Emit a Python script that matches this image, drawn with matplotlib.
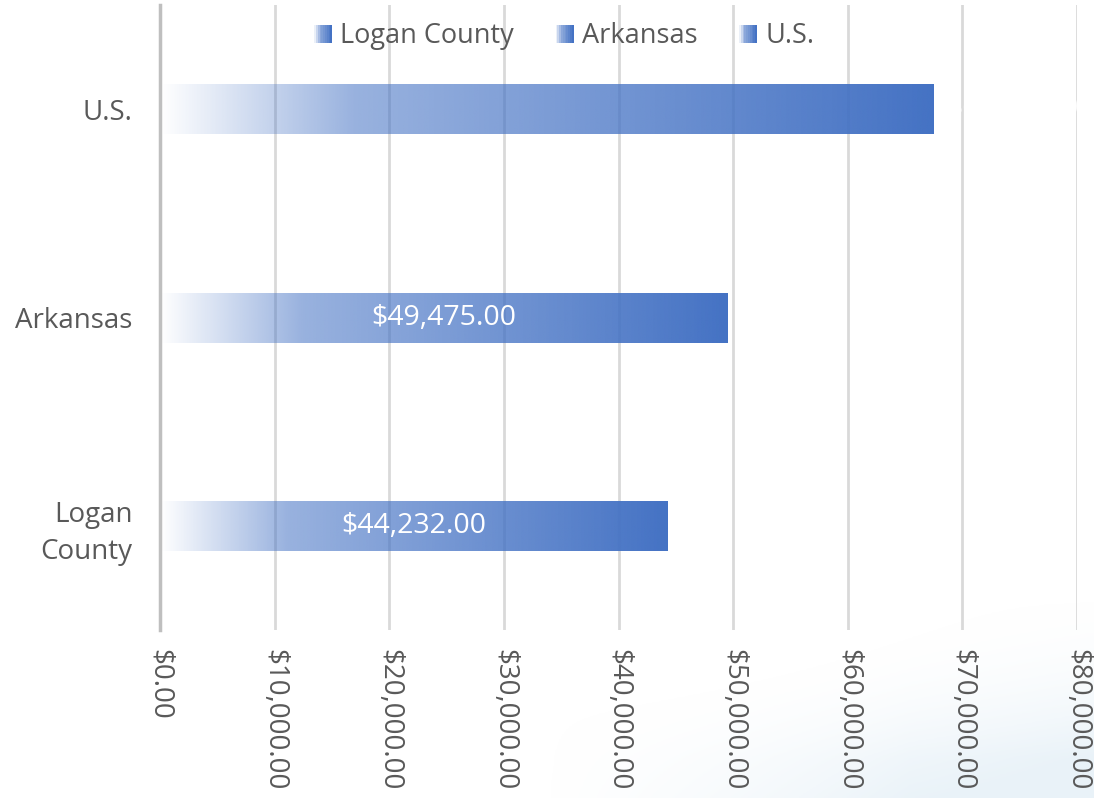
import numpy as np
import matplotlib.pyplot as plt
from matplotlib.patches import Rectangle
from matplotlib.legend_handler import HandlerBase

plt.rcParams['font.family'] = ['Open Sans', 'DejaVu Sans']

categories = ["Logan\nCounty", "Arkansas", "U.S."]
series_names = ["Logan County", "Arkansas", "U.S."]
values = [44232.00, 49475.00, 67521.00]
ticks = [0, 10000, 20000, 30000, 40000, 50000, 60000, 70000, 80000]
tick_labels = ["$0.00", "$10,000.00", "$20,000.00", "$30,000.00", "$40,000.00",
               "$50,000.00", "$60,000.00", "$70,000.00", "$80,000.00"]

blue = "#4472C4"
text_col = "#595959"

fig = plt.figure(figsize=(10.94, 7.98), dpi=100)
fig.patch.set_facecolor("white")

# faint blue swoosh in the background (lower right)
bg = fig.add_axes([0, 0, 1, 1], zorder=-5)
bg.set_xlim(0, 1)
bg.set_ylim(0, 1)
bg.axis("off")
yy, xx = np.mgrid[0:1:300j, 0:1:300j]
d = np.sqrt(((xx - 0.35) / 0.75) ** 2 + ((yy - 0.55) / 0.45) ** 2)
sw = np.clip((d - 1.0) * 2.5, 0, 1) * np.clip((0.25 - yy) * 5, 0, 1) * np.clip((xx - 0.5) * 3, 0, 1)
bgimg = np.ones((300, 300, 4))
bgimg[..., 0] = 0.86
bgimg[..., 1] = 0.92
bgimg[..., 2] = 0.96
bgimg[..., 3] = sw * 0.6
bg.imshow(bgimg, extent=[0, 1, 0, 1], origin="lower", aspect="auto")

ax = fig.add_axes([0.1463, 0.2105, 0.8382, 0.7830])
ax.set_facecolor("none")

# gradient bars: transparent on the left, full blue on the right
ramp = np.linspace(0, 1, 256)
alpha = np.interp(ramp, [0, 0.25, 1], [0.0, 0.55, 1.0])
rgb = np.array([0x44, 0x72, 0xC4]) / 255
grad = np.zeros((1, 256, 4))
grad[..., :3] = rgb
grad[..., 3] = alpha

bar_h = 0.24
ypos = np.arange(len(categories))
for y, v in zip(ypos, values):
    ax.imshow(grad, extent=[0, v, y - bar_h / 2, y + bar_h / 2],
              aspect="auto", zorder=2, interpolation="bilinear")

for y, v in zip(ypos[:2], values[:2]):
    ax.text(v / 2, y, "${:,.2f}".format(v), color="white", fontsize=20.5,
            ha="center", va="center", zorder=3)
# U.S. label sits beyond the bar end, white on white
ax.text(values[2] + 7400, ypos[2], "${:,.2f}".format(values[2]), color="white",
        fontsize=20.5, ha="center", va="center", zorder=3)

ax.set_xlim(0, 80000)
ax.set_ylim(-0.5, 2.5)
ax.set_xticks(ticks)
ax.set_xticklabels(tick_labels, rotation=-90, fontsize=20, color=text_col)
ax.set_yticks(ypos)
ax.set_yticklabels(categories, fontsize=20, color=text_col, linespacing=1.4)
ax.tick_params(length=0, axis="both")
ax.tick_params(axis="y", pad=20)
ax.tick_params(axis="x", pad=14)
ax.grid(axis="x", color="#d9d9d9", linewidth=2, zorder=0)
ax.set_axisbelow(True)
for s in ["top", "right", "bottom"]:
    ax.spines[s].set_visible(False)
ax.spines["left"].set_color("#bfbfbf")
ax.spines["left"].set_linewidth(2.5)
ax.spines["left"].set_zorder(1)


class GradHandler(HandlerBase):
    def create_artists(self, legend, orig, xd, yd, w, h, fontsize, trans):
        arts = []
        n = 10
        s = h * 0.95
        x0 = xd + w - s
        for i in range(n):
            a = np.interp(i / (n - 1), [0, 0.3, 1], [0.1, 0.6, 1.0])
            r = Rectangle((x0 + i * s / n, yd), s / n, s,
                          facecolor=blue, alpha=a, edgecolor="none", transform=trans)
            arts.append(r)
        return arts


handles = [Rectangle((0, 0), 1, 1) for _ in series_names]
fig.legend(handles, series_names, loc="center", bbox_to_anchor=(0.514, 0.955),
           ncol=3, frameon=False, fontsize=19.5, labelcolor=text_col,
           handler_map={Rectangle: GradHandler()}, handlelength=0.8,
           handletextpad=0.3, columnspacing=1.4)

fig.savefig("out.png", dpi=100)
